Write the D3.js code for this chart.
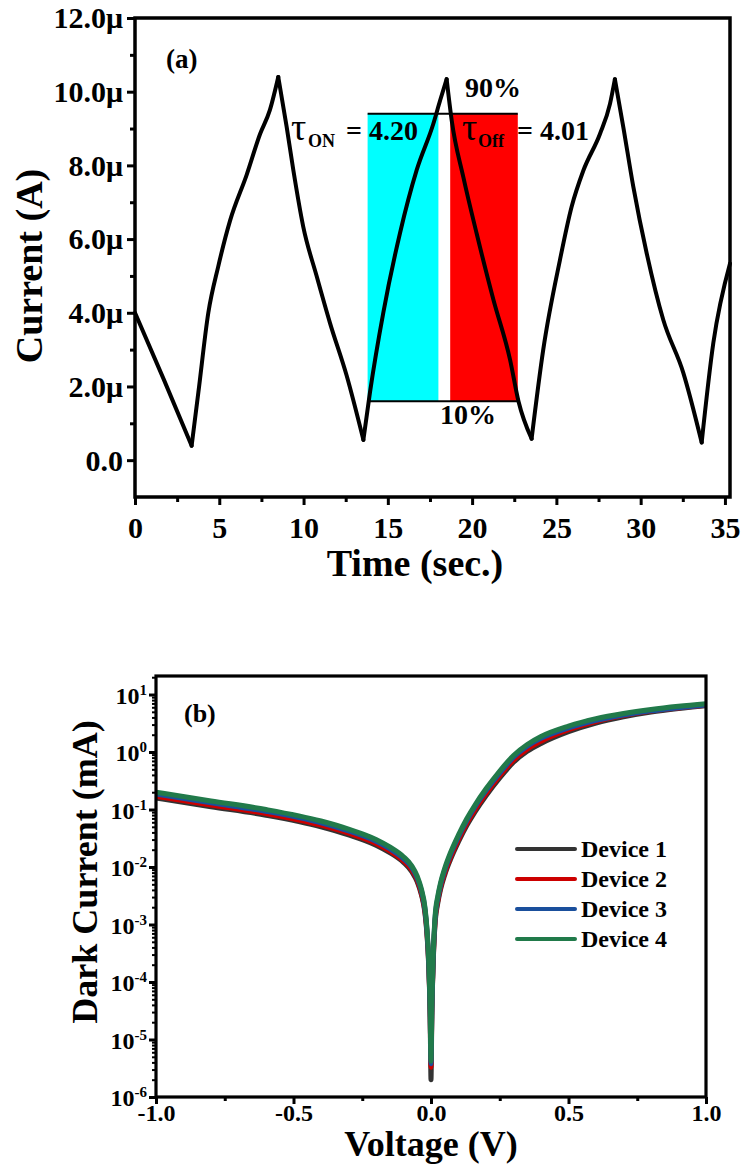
<!DOCTYPE html>
<html>
<head>
<meta charset="utf-8">
<script src="https://cdn.jsdelivr.net/npm/d3@7"></script>
<style>
  body { margin: 0; background: #fff; }
  text { font-family: "Liberation Serif", "Times New Roman", serif; font-weight: bold; fill: #000; }
</style>
</head>
<body>
<svg id="fig" width="744" height="1166"></svg>
<script>
// ---- Panel (a): photocurrent transient ----
const time = [0, 1.7, 3.36, 3.76, 4.35, 4.94, 5.64, 6.63, 7.42, 8.0, 8.5,
  9.0, 9.39, 9.98, 10.78, 11.57, 12.56, 13.55,
  13.94, 14.73, 15.72, 16.71, 17.7, 18.1, 18.49,
  18.79, 19.48, 20.27, 21.26, 22.25, 22.75, 23.53,
  24.22, 25.21, 25.9, 26.6, 27.59, 28.18, 28.47,
  28.97, 29.56, 30.36, 31.34, 32.53, 33.62,
  34.31, 35.3];
const currentMicroA = [4.0, 2.2, 0.39, 1.84, 4.0, 5.26, 6.5, 7.75, 8.85, 9.5, 10.4,
  9.04, 7.88, 6.34, 4.99, 3.72, 2.29, 0.55,
  1.84, 4.0, 6.16, 7.87, 9.13, 9.76, 10.34,
  9.22, 7.68, 6.15, 4.36, 2.73, 1.6, 0.58,
  3.0, 5.43, 6.87, 7.86, 8.86, 9.67, 10.34,
  9.04, 7.43, 5.61, 3.81, 2.37, 0.48,
  3.18, 5.34];
const timeTicks = [0, 5, 10, 15, 20, 25, 30, 35];
const currentTicks = [0, 2, 4, 6, 8, 10, 12];
const tauOn = 4.20, tauOff = 4.01;
const riseStart = 13.8, decayStart = 18.7;
const levels = [1.6, 9.4];   // 10% and 90% levels, μA

// ---- Panel (b): dark I–V curves (mA) ----
const voltage = [-1.0, -0.8, -0.6, -0.4, -0.3, -0.2, -0.15, -0.1, -0.07, -0.05, -0.035, -0.022, -0.015, -0.008, -0.003,
  0, 0.003, 0.008, 0.015, 0.025, 0.035, 0.05, 0.07, 0.1, 0.13, 0.16, 0.2, 0.25, 0.3, 0.35, 0.4, 0.5, 0.6, 0.7, 0.8, 0.9, 1.0];
const device1 = [0.159, 0.112, 0.0794, 0.0501, 0.0363, 0.0240, 0.0178, 0.0120, 0.0083, 0.0055, 0.0033, 0.00159, 0.00071, 0.000175, 2.4e-5,
  2.0e-6, 2.6e-5, 2.1e-4, 0.00107, 0.0024, 0.0041, 0.0073, 0.0132, 0.0276, 0.0526, 0.0912, 0.174, 0.356, 0.662, 1.03, 1.41, 2.26, 3.2, 4.1, 4.95, 5.7, 6.4];
const device2 = [0.170, 0.120, 0.085, 0.0536, 0.0388, 0.0257, 0.0190, 0.0128, 0.0089, 0.0059, 0.0035, 0.0017, 0.00076, 0.00019, 2.7e-5,
  3.3e-6, 2.9e-5, 2.3e-4, 0.00117, 0.0026, 0.0045, 0.0079, 0.0144, 0.0301, 0.0574, 0.0996, 0.190, 0.388, 0.723, 1.12, 1.54, 2.45, 3.4, 4.3, 5.15, 5.85, 6.5];
const device3 = [0.186, 0.131, 0.093, 0.0587, 0.0425, 0.0281, 0.0208, 0.0140, 0.0098, 0.0064, 0.0039, 0.00186, 0.00083, 0.000205, 3.0e-5,
  3.8e-6, 3.2e-5, 2.6e-4, 0.00131, 0.0029, 0.0050, 0.0089, 0.0162, 0.0338, 0.0644, 0.112, 0.213, 0.435, 0.81, 1.26, 1.73, 2.62, 3.55, 4.4, 5.2, 5.9, 6.6];
const device4 = [0.200, 0.141, 0.100, 0.0631, 0.0457, 0.0302, 0.0224, 0.0151, 0.0105, 0.00692, 0.00417, 0.0020, 0.00089, 0.00022, 3.2e-5,
  4.2e-6, 3.5e-5, 2.8e-4, 0.00141, 0.00316, 0.00537, 0.00955, 0.0174, 0.0363, 0.0692, 0.120, 0.229, 0.468, 0.871, 1.35, 1.86, 2.82, 3.80, 4.68, 5.50, 6.24, 6.92];
const deviceNames = ["Device 1", "Device 2", "Device 3", "Device 4"];
const deviceColors = ["#333333", "#cc0000", "#1a4f9c", "#217a4a"];
const voltageTicks = [-1.0, -0.5, 0.0, 0.5, 1.0];
const decades = [-6, -5, -4, -3, -2, -1, 0, 1];

const svg = d3.select("#fig");

// ================= Panel (a) =================
const A = { left: 135, right: 730, top: 18, bottom: 497 };
const xA = d3.scaleLinear().domain([0, 35.3]).range([A.left, A.right]);
const yA = d3.scaleLinear().domain([-1, 12]).range([A.bottom, A.top]);
const gA = svg.append("g");

// shaded response-time bands
gA.append("rect")
  .attr("x", xA(riseStart)).attr("width", xA(riseStart + tauOn) - xA(riseStart))
  .attr("y", yA(levels[1])).attr("height", yA(levels[0]) - yA(levels[1]))
  .attr("fill", "#00ffff");
gA.append("rect")
  .attr("x", xA(decayStart)).attr("width", xA(decayStart + tauOff) - xA(decayStart))
  .attr("y", yA(levels[1])).attr("height", yA(levels[0]) - yA(levels[1]))
  .attr("fill", "#ff0000");
levels.forEach(l => {
  gA.append("line")
    .attr("x1", xA(riseStart)).attr("x2", xA(decayStart + tauOff))
    .attr("y1", yA(l)).attr("y2", yA(l))
    .attr("stroke", "#000").attr("stroke-width", 2);
});

// transient trace: each rise / decay branch smoothed separately so the switching points stay sharp
const pts = time.map((t, i) => [t, currentMicroA[i]]);
const branches = [];
let cur = [pts[0]];
for (let i = 1; i < pts.length; i++) {
  cur.push(pts[i]);
  const next = pts[i + 1];
  if (next && Math.sign(next[1] - pts[i][1]) !== Math.sign(pts[i][1] - pts[i - 1][1])) {
    branches.push(cur);
    cur = [pts[i]];
  }
}
branches.push(cur);
const lineA = d3.line().x(d => xA(d[0])).y(d => yA(d[1])).curve(d3.curveMonotoneX);
gA.selectAll("path.trace").data(branches).join("path")
  .attr("class", "trace")
  .attr("fill", "none").attr("stroke", "#000").attr("stroke-width", 4)
  .attr("stroke-linejoin", "round").attr("stroke-linecap", "round")
  .attr("d", lineA);

// axes (a)
function styleAxis(g, w, fs) {
  g.select(".domain").remove();
  g.selectAll(".tick line").attr("stroke", "#000").attr("stroke-width", w);
  g.selectAll("text").style("font-size", fs + "px").attr("fill", "#000");
}
gA.append("g").attr("transform", `translate(0,${A.bottom})`)
  .call(d3.axisBottom(xA).tickValues(timeTicks).tickSize(8).tickFormat(d => d))
  .call(g => { styleAxis(g, 3, 30); g.selectAll("text").attr("dy", null).attr("y", 41); });
gA.append("g").attr("transform", `translate(0,${A.bottom})`)
  .call(d3.axisBottom(xA).tickValues(timeTicks.slice(0, -1).map(t => t + 2.5)).tickSize(5).tickFormat(""))
  .call(g => styleAxis(g, 3, 30));
gA.append("g").attr("transform", `translate(${A.left},0)`)
  .call(d3.axisLeft(yA).tickValues(currentTicks).tickSize(8).tickPadding(4)
    .tickFormat(d => d === 0 ? "0.0" : d.toFixed(1) + "μ"))
  .call(g => { styleAxis(g, 3, 30); g.selectAll("text").attr("dy", "0.33em"); });
gA.append("g").attr("transform", `translate(${A.left},0)`)
  .call(d3.axisLeft(yA).tickValues(currentTicks.slice(0, -1).map(v => v + 1)).tickSize(5).tickFormat(""))
  .call(g => styleAxis(g, 3, 30));
gA.append("rect")
  .attr("x", A.left).attr("y", A.top).attr("width", A.right - A.left).attr("height", A.bottom - A.top)
  .attr("fill", "none").attr("stroke", "#000").attr("stroke-width", 3.5);

// titles (a)
gA.append("text").attr("x", 415).attr("y", 576).attr("text-anchor", "middle")
  .style("font-size", "38px").text("Time (sec.)");
gA.append("text").attr("transform", "translate(42,266) rotate(-90)").attr("text-anchor", "middle")
  .style("font-size", "38px").text("Current (A)");
gA.append("text").attr("x", 166).attr("y", 68).style("font-size", "27px").text("(a)");
gA.append("text").attr("x", 465).attr("y", 97).style("font-size", "28px").text("90%");
gA.append("text").attr("x", 440).attr("y", 424).style("font-size", "28px").text("10%");

const onLbl = gA.append("text").attr("y", 140);
onLbl.append("tspan").attr("x", 291).style("font-weight", "normal").style("font-size", "38px").text("τ");
onLbl.append("tspan").attr("x", 308).attr("y", 147).style("font-size", "18px").text("ON");
onLbl.append("tspan").attr("x", 346).attr("y", 140).style("font-size", "28px").text("= " + tauOn.toFixed(2));
const offLbl = gA.append("text").attr("y", 140);
offLbl.append("tspan").attr("x", 462).style("font-weight", "normal").style("font-size", "38px").text("τ");
offLbl.append("tspan").attr("x", 478).attr("y", 147).style("font-size", "18px").text("Off");
offLbl.append("tspan").attr("x", 517).attr("y", 140).style("font-size", "28px").text("= " + tauOff.toFixed(2));

// ================= Panel (b) =================
const B = { left: 156, right: 706, top: 676, bottom: 1097 };
const xB = d3.scaleLinear().domain([-1, 1]).range([B.left, B.right]);
const yB = d3.scaleLog().domain([1e-6, 21]).range([B.bottom, B.top]);
const gB = svg.append("g");

const series = [device1, device2, device3, device4];
const lineB = d3.line().x(d => xB(d[0])).y(d => yB(d[1])).curve(d3.curveMonotoneX);
series.forEach((s, k) => {
  gB.append("path")
    .datum(voltage.map((v, i) => [v, s[i]]))
    .attr("fill", "none").attr("stroke", deviceColors[k]).attr("stroke-width", 5)
    .attr("stroke-linejoin", "round")
    .attr("d", lineB);
});

// axes (b)
gB.append("g").attr("transform", `translate(0,${B.bottom})`)
  .call(d3.axisBottom(xB).tickValues(voltageTicks).tickSize(7).tickFormat(d => d.toFixed(1)))
  .call(g => { styleAxis(g, 3, 24); g.selectAll("text").attr("dy", null).attr("y", 24); });
gB.append("g").attr("transform", `translate(0,${B.bottom})`)
  .call(d3.axisBottom(xB).tickValues([-0.75, -0.25, 0.25, 0.75]).tickSize(4).tickFormat(""))
  .call(g => styleAxis(g, 3, 24));
gB.append("g").attr("transform", `translate(${B.left},0)`)
  .call(d3.axisLeft(yB).tickValues(decades.map(e => Math.pow(10, e))).tickSize(7).tickFormat(""))
  .call(g => styleAxis(g, 3, 24));
const minorB = [];
decades.forEach(e => { for (let m = 2; m <= 9; m++) { const v = m * Math.pow(10, e); if (v <= 21) minorB.push(v); } });
gB.append("g").attr("transform", `translate(${B.left},0)`)
  .call(d3.axisLeft(yB).tickValues(minorB).tickSize(4).tickFormat(""))
  .call(g => styleAxis(g, 2, 24));
decades.forEach(e => {
  const t = gB.append("text").attr("x", 147).attr("y", yB(Math.pow(10, e)) + 9)
    .attr("text-anchor", "end").style("font-size", "24px");
  t.append("tspan").text("10");
  t.append("tspan").attr("dy", -9).style("font-size", "15px").text(String(e));
});
gB.append("rect")
  .attr("x", B.left).attr("y", B.top).attr("width", B.right - B.left).attr("height", B.bottom - B.top)
  .attr("fill", "none").attr("stroke", "#000").attr("stroke-width", 3.2);

// titles (b)
gB.append("text").attr("x", 431).attr("y", 1156).attr("text-anchor", "middle")
  .style("font-size", "36px").text("Voltage (V)");
gB.append("text").attr("transform", "translate(97,872) rotate(-90)").attr("text-anchor", "middle")
  .style("font-size", "36px").text("Dark Current (mA)");
gB.append("text").attr("x", 184).attr("y", 722).style("font-size", "26px").text("(b)");

// legend
deviceNames.forEach((n, k) => {
  const y = 849 + k * 30;
  gB.append("line").attr("x1", 517).attr("x2", 575).attr("y1", y).attr("y2", y)
    .attr("stroke", deviceColors[k]).attr("stroke-width", 4).attr("stroke-linecap", "round");
  gB.append("text").attr("x", 581).attr("y", y + 8).style("font-size", "24px").text(n);
});
</script>
</body>
</html>
